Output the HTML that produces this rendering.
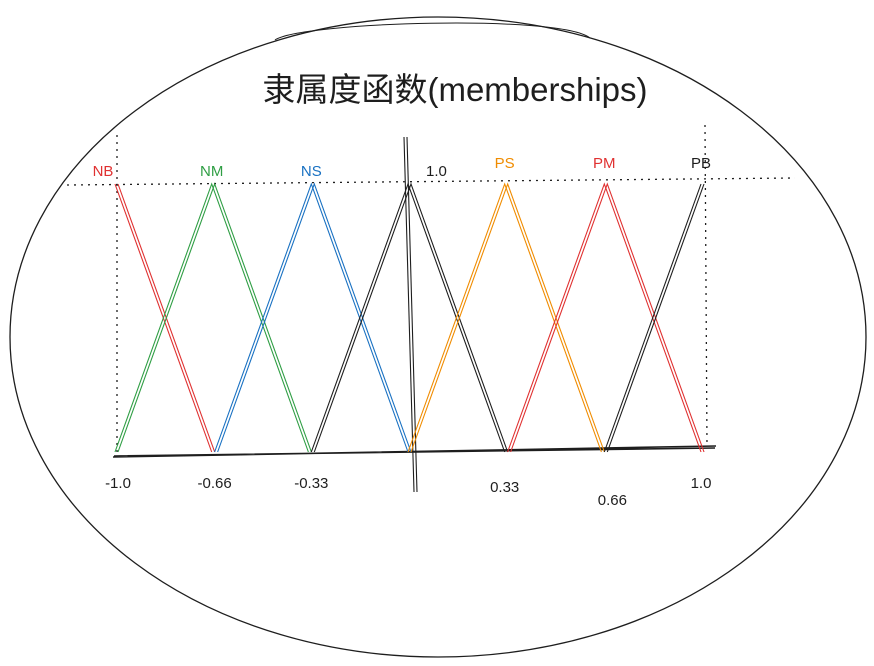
<!DOCTYPE html>
<html><head><meta charset="utf-8"><style>
html,body{margin:0;padding:0;background:#fff;}
svg{display:block;font-family:"Liberation Sans","Noto Sans CJK SC",sans-serif;}
</style></head><body>
<svg id="chart" width="874" height="666" viewBox="0 0 874 666">
  <ellipse cx="438" cy="337" rx="428" ry="320" fill="none" stroke="#1e1e1e" stroke-width="1.3"/>
  <path d="M275 40 C 300 22, 560 14, 590 38" fill="none" stroke="#1e1e1e" stroke-width="1"/>
  <text x="455" y="101" text-anchor="middle" font-size="33" fill="#1e1e1e">隶属度函数(memberships)</text>
  <line x1="67" y1="185" x2="795" y2="178" stroke="#1e1e1e" stroke-width="1.3" stroke-dasharray="2,5"/>
  <line x1="117" y1="135" x2="117" y2="457" stroke="#1e1e1e" stroke-width="1.3" stroke-dasharray="2,5"/>
  <line x1="705" y1="125" x2="707" y2="446" stroke="#1e1e1e" stroke-width="1.3" stroke-dasharray="2,5"/>
  <path d="M113 457 L716 446 M114 456 L715 448" stroke="#1e1e1e" stroke-width="1.6" fill="none"/>
  <path d="M404 137 L414 492 M407 137 L417 492" stroke="#1e1e1e" stroke-width="1.1" fill="none"/>
  <text x="426" y="176" font-size="15" fill="#1e1e1e">1.0</text>
  <g id="series"></g>
  <g id="ticks"></g>
</svg>
<script>
const setNames = ["NB","NM","NS","ZO","PS","PM","PB"];
const centers = [-1, -0.67, -0.33, 0, 0.33, 0.67, 1];
const peakValues = [1, 1, 1, 1, 1, 1, 1];
const colors = ["#e03131","#2f9e44","#1971c2","#1e1e1e","#f08c00","#e03131","#1e1e1e"];
const tickValues = [-1, -0.66, -0.33, 0.33, 0.66, 1];
const tickLabels = ["-1.0","-0.66","-0.33","0.33","0.66","1.0"];

const NS = "http://www.w3.org/2000/svg";
function xs(v){ return 408 + v * 293; }
function ys(m){ return 452 - m * 268; }
const g = document.getElementById("series");
const step = 0.33;
centers.forEach((c, i) => {
  const pts = [];
  if (i > 0) pts.push([xs(c - step), ys(0)]);
  pts.push([xs(c), ys(peakValues[i])]);
  if (i < centers.length - 1) pts.push([xs(c + step), ys(0)]);
  [0, 3].forEach(off => {
    const p = document.createElementNS(NS, "polyline");
    p.setAttribute("points", pts.map(q => (q[0] + off) + "," + q[1]).join(" "));
    p.setAttribute("fill", "none");
    p.setAttribute("stroke", colors[i]);
    p.setAttribute("stroke-width", "1.1");
    
    
    g.appendChild(p);
  });
  if (setNames[i] !== "ZO") {
    const t = document.createElementNS(NS, "text");
    t.setAttribute("x", xs(c) + (i === 0 ? -12 : 0));
    t.setAttribute("y", i < 3 ? 176 : 168);
    t.setAttribute("text-anchor", "middle");
    t.setAttribute("font-size", "15");
    t.setAttribute("fill", colors[i]);
    t.textContent = setNames[i];
    
    
    g.appendChild(t);
  }
});
const tg = document.getElementById("ticks");
tickValues.forEach((v, i) => {
  const t = document.createElementNS(NS, "text");
  t.setAttribute("x", xs(v) + (i === 0 ? 3 : i === 4 ? 11 : 0));
  t.setAttribute("y", i === 4 ? 505 : i === 3 ? 492 : 488);
  t.setAttribute("text-anchor", "middle");
  t.setAttribute("font-size", "15");
  t.setAttribute("fill", "#1e1e1e");
  t.textContent = tickLabels[i];
  
  
  tg.appendChild(t);
});
</script>
</body></html>
